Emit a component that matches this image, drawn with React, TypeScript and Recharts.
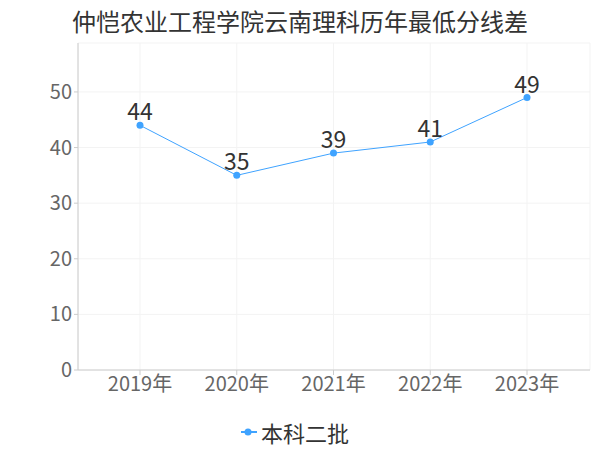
import { LineChart, Line, XAxis, YAxis, CartesianGrid, Legend, LabelList } from 'recharts';

const years = ['2019年', '2020年', '2021年', '2022年', '2023年'];
const scores = [44, 35, 39, 41, 49];
const yTicks = [0, 10, 20, 30, 40, 50];

const data = years.map((y, i) => ({ year: y, value: scores[i] }));

const font = '"Noto Sans CJK SC", "Noto Sans", sans-serif';

const renderLegend = (props: any) => {
  const { payload = [] } = props;
  return (
    <div style={{ display: 'flex', justifyContent: 'center', alignItems: 'center', fontFamily: font }}>
      {payload.map((entry: any) => (
        <div key={entry.value} style={{ display: 'flex', alignItems: 'center' }}>
          <svg width={18} height={10} style={{ marginRight: 2 }}>
            <line x1={0} y1={5} x2={16} y2={5} stroke={entry.color} strokeWidth={2} />
            <circle cx={7} cy={5} r={3.5} fill={entry.color} />
          </svg>
          <span style={{ color: '#333', fontSize: 22 }}>{entry.value}</span>
        </div>
      ))}
    </div>
  );
};

export default function App() {
  return (
    <div style={{ position: 'absolute', left: 0, top: 0, width: 600, height: 450, background: '#fff', fontFamily: font }}>
      <div style={{ position: 'absolute', top: 3, left: 0, width: 600, textAlign: 'center', fontSize: 24, color: '#333' }}>
        仲恺农业工程学院云南理科历年最低分线差
      </div>
      <LineChart width={600} height={450} data={data} margin={{ top: 43, right: 10, left: 0, bottom: 8 }}>
        <CartesianGrid stroke="#f3f3f3" />
        <XAxis
          dataKey="year"
          padding={{ left: 62, right: 63 }}
          tick={{ fill: '#666', fontSize: 20, fontFamily: font }}
          tickLine={{ stroke: '#ccc' }}
          axisLine={{ stroke: '#ccc' }}
          tickSize={5}
          height={40}
        />
        <YAxis
          domain={[0, 58.8]}
          ticks={yTicks}
          tick={{ fill: '#666', fontSize: 20, fontFamily: font }}
          tickLine={{ stroke: '#ccc' }}
          axisLine={{ stroke: '#ccc' }}
          tickSize={4}
          width={78}
        />
        <Legend verticalAlign="bottom" content={renderLegend} wrapperStyle={{ bottom: 2 }} />
        <Line
          type="linear"
          dataKey="value"
          name="本科二批"
          stroke="#3fa3ff"
          strokeWidth={1}
          dot={{ r: 3.5, fill: '#3fa3ff', stroke: '#3fa3ff', strokeWidth: 0 }}
          isAnimationActive={false}
        >
          <LabelList dataKey="value" position="top" offset={5} fill="#333" fontSize={23} fontFamily={font} />
        </Line>
      </LineChart>
    </div>
  );
}
